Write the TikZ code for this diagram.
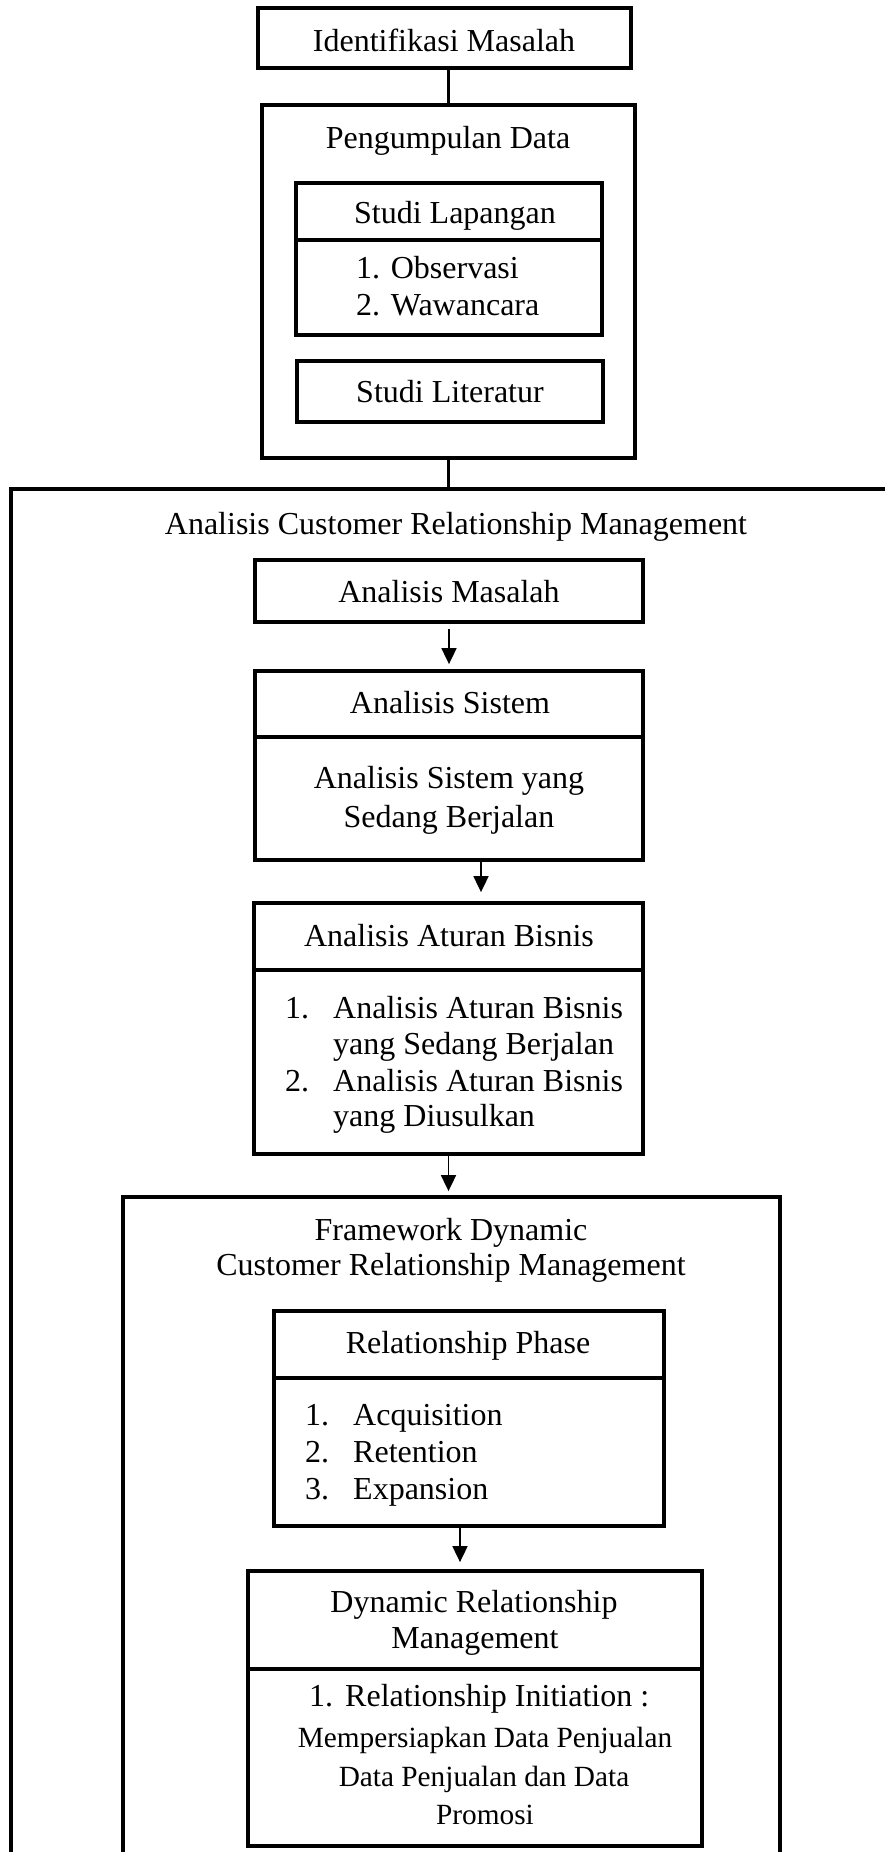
\documentclass[tikz,border=0pt]{standalone}
\usepackage{fontspec}
\setmainfont{Liberation Serif}
\usetikzlibrary{fit,arrows.meta}
\begin{document}
\begin{tikzpicture}[x=1pt,y=-1pt,
 box/.style={draw, line width=3.8pt, inner sep=0pt},
 txt/.style={inner sep=0pt, font=\fontsize{32}{37}\selectfont, anchor=base},
 txl/.style={txt, anchor=base west},
 sml/.style={inner sep=0pt, font=\fontsize{29.3}{34}\selectfont, anchor=base},
 conn/.style={line width=2.5pt},
 arr/.style={line width=1.8pt, -{Triangle[length=16pt,width=15pt]}},
 divl/.style={line width=3.8pt}]
\useasboundingbox (0,0) rectangle (885,1852);
\clip (0,0) rectangle (885,1852);

% boxes
\node[box, fit={(258,8) (631,68)}] (im) {};
\node[box, fit={(262,105) (635,458)}] (pd) {};
\node[box, fit={(296,183) (602,335)}] (sl) {};
\draw[divl] (296,240) -- (602,240);
\node[box, fit={(297,361) (603,422)}] (slit) {};
\node[box, fit={(11,489) (960,1920)}] (outer) {};
\node[box, fit={(255,560) (643,622)}] (am) {};
\node[box, fit={(255,671) (643,860)}] (as) {};
\draw[divl] (255,737) -- (643,737);
\node[box, fit={(254,903) (643,1154)}] (aab) {};
\draw[divl] (254,970) -- (643,970);
\node[box, fit={(123,1197) (780,1920)}] (fw) {};
\node[box, fit={(274,1311) (664,1526)}] (rp) {};
\draw[divl] (274,1378) -- (664,1378);
\node[box, fit={(248,1571) (702,1846)}] (drm) {};
\draw[divl] (248,1669) -- (702,1669);

% connectors
\draw[conn] (pd.north) -- (pd.north |- im.south);
\draw[conn] (pd.south) -- (pd.south |- outer.north);
\draw[arr, shorten <=5pt, shorten >=5pt] (am.south) -- (am.south |- as.north);
\draw[arr, shorten >=9pt] ([xshift=32pt]as.south) -- ([xshift=32pt]as.south |- aab.north);
\draw[arr, shorten >=4pt] (aab.south) -- (aab.south |- fw.north);
\draw[arr, shorten >=7pt] ([xshift=-9pt]rp.south) -- ([xshift=-9pt]rp.south |- drm.north);

% texts
\node[txt] (t1) at (444,52) {Identifikasi Masalah};
\node[txt] (t2) at (448,148) {Pengumpulan Data};
\node[txt] (t3) at (455,223) {Studi Lapangan};
\node[txl] (t4) at (356,278) {1. Observasi};
\node[txl] (t5) at (356,315) {2. Wawancara};
\node[txt] (t6) at (450,402) {Studi Literatur};
\node[txt] (t7) at (456,534) {Analisis Customer Relationship Management};
\node[txt] (t8) at (449,602) {Analisis Masalah};
\node[txt] (t9) at (450,713) {Analisis Sistem};
\node[txt] (t10) at (449,788) {Analisis Sistem yang};
\node[txt] (t11) at (449,827) {Sedang Berjalan};
\node[txt] (t12) at (449,946) {Analisis Aturan Bisnis};
\node[txl] (n1) at (285,1018) {1.};
\node[txl] (t13) at (333,1018) {Analisis Aturan Bisnis};
\node[txl] (t14) at (333,1054) {yang Sedang Berjalan};
\node[txl] (n2) at (285,1091) {2.};
\node[txl] (t15) at (333,1091) {Analisis Aturan Bisnis};
\node[txl] (t16) at (333,1126) {yang Diusulkan};
\node[txt] (t17) at (451,1240) {Framework Dynamic};
\node[txt] (t18) at (451,1275) {Customer Relationship Management};
\node[txt] (t19) at (468,1353) {Relationship Phase};
\node[txl] (n3) at (305,1425) {1.};
\node[txl] (t20) at (353,1425) {Acquisition};
\node[txl] (n4) at (305,1462) {2.};
\node[txl] (t21) at (353,1462) {Retention};
\node[txl] (n5) at (305,1499) {3.};
\node[txl] (t22) at (353,1499) {Expansion};
\node[txt] (t23) at (474,1612) {Dynamic Relationship};
\node[txt] (t24) at (475,1648) {Management};
\node[txl] (n6) at (309,1706) {1.};
\node[txl] (t25) at (345,1706) {Relationship Initiation :};
\node[sml] (t26) at (485,1747) {Mempersiapkan Data Penjualan};
\node[sml] (t27) at (484,1786) {Data Penjualan dan Data};
\node[sml] (t28) at (485,1824) {Promosi};
\end{tikzpicture}
\end{document}
